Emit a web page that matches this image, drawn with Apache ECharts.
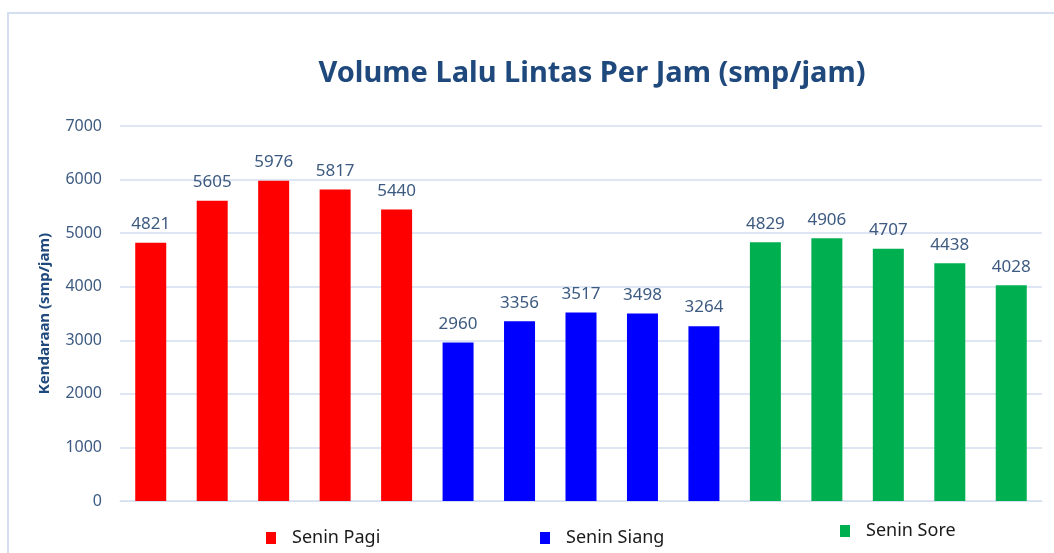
<!DOCTYPE html>
<html>
<head>
<meta charset="utf-8">
<script src="https://cdn.jsdelivr.net/npm/echarts@6/dist/echarts.min.js"></script>
<style>
html, body { margin: 0; padding: 0; background: #fff; }
#main { width: 1054px; height: 553px; }
</style>
</head>
<body>
<div id="main"></div>
<script>
// slots on the x axis (15 bars, 5 per period)
var categories = ['1', '2', '3', '4', '5', '6', '7', '8', '9', '10', '11', '12', '13', '14', '15']
var pagi = [4821, 5605, 5976, 5817, 5440]
var siang = [2960, 3356, 3517, 3498, 3264]
var sore = [4829, 4906, 4707, 4438, 4028]
var yTicks = [0, 1000, 2000, 3000, 4000, 5000, 6000, 7000]

function place(vals, offset) {
    var out = []
    for (var i = 0; i < categories.length; i++) out.push('-')
    for (var j = 0; j < vals.length; j++) out[offset + j] = vals[j]
    return out
}

var txt = '#3d5a80'
var font = 'Noto Sans'

var chart = echarts.init(document.getElementById('main'))

function barSeries(name, vals, offset, color) {
    return {
        name: name,
        type: 'bar',
        data: place(vals, offset),
        barWidth: 31,
        barGap: '-100%',
        itemStyle: { color: color },
        label: {
            show: true,
            position: 'top',
            distance: 10,
            color: txt,
            fontFamily: font,
            fontSize: 17
        }
    }
}

function legendAt(name, left, top) {
    return {
        data: [name],
        left: left,
        top: top,
        icon: 'rect',
        itemWidth: 10,
        itemHeight: 12,
        itemGap: 0,
        textStyle: { color: '#1a1a1a', fontFamily: font, fontSize: 18, padding: [0, 0, 0, 11] },
        selectedMode: false
    }
}

chart.setOption({
    backgroundColor: '#fff',
    animation: false,
    graphic: [{
        type: 'rect',
        shape: { x: 8, y: 13, width: 1200, height: 700 },
        style: { fill: 'none', stroke: '#d3def0', lineWidth: 2 }
    }],
    title: {
        text: 'Volume Lalu Lintas Per Jam (smp/jam)',
        left: 587,
        textAlign: 'center',
        top: 54,
        textStyle: { color: '#1f497d', fontFamily: font, fontWeight: 'bold', fontSize: 29 }
    },
    legend: [
        legendAt('Senin Pagi', 261, 524),
        legendAt('Senin Siang', 535, 524),
        legendAt('Senin Sore', 835, 517)
    ],
    grid: { left: 120, right: 12, top: 126, bottom: 52 },
    xAxis: {
        type: 'category',
        data: categories,
        axisLine: { lineStyle: { color: '#d3def0' } },
        axisTick: { show: false },
        axisLabel: { show: false }
    },
    yAxis: {
        type: 'value',
        min: yTicks[0],
        max: yTicks[yTicks.length - 1],
        interval: 1000,
        name: 'Kendaraan (smp/jam)',
        nameLocation: 'middle',
        nameGap: 68,
        nameTextStyle: { color: '#1f497d', fontFamily: font, fontSize: 15, fontWeight: 'bold' },
        axisLine: { show: false },
        axisTick: { show: false },
        axisLabel: {
            color: txt, fontFamily: font, fontSize: 16, margin: 18,
            formatter: function (v) { return String(v) }
        },
        splitLine: { lineStyle: { color: '#d3def0', width: 1.5 } }
    },
    series: [
        barSeries('Senin Pagi', pagi, 0, '#ff0000'),
        barSeries('Senin Siang', siang, 5, '#0000ff'),
        barSeries('Senin Sore', sore, 10, '#00b050')
    ]
})
</script>
</body>
</html>
